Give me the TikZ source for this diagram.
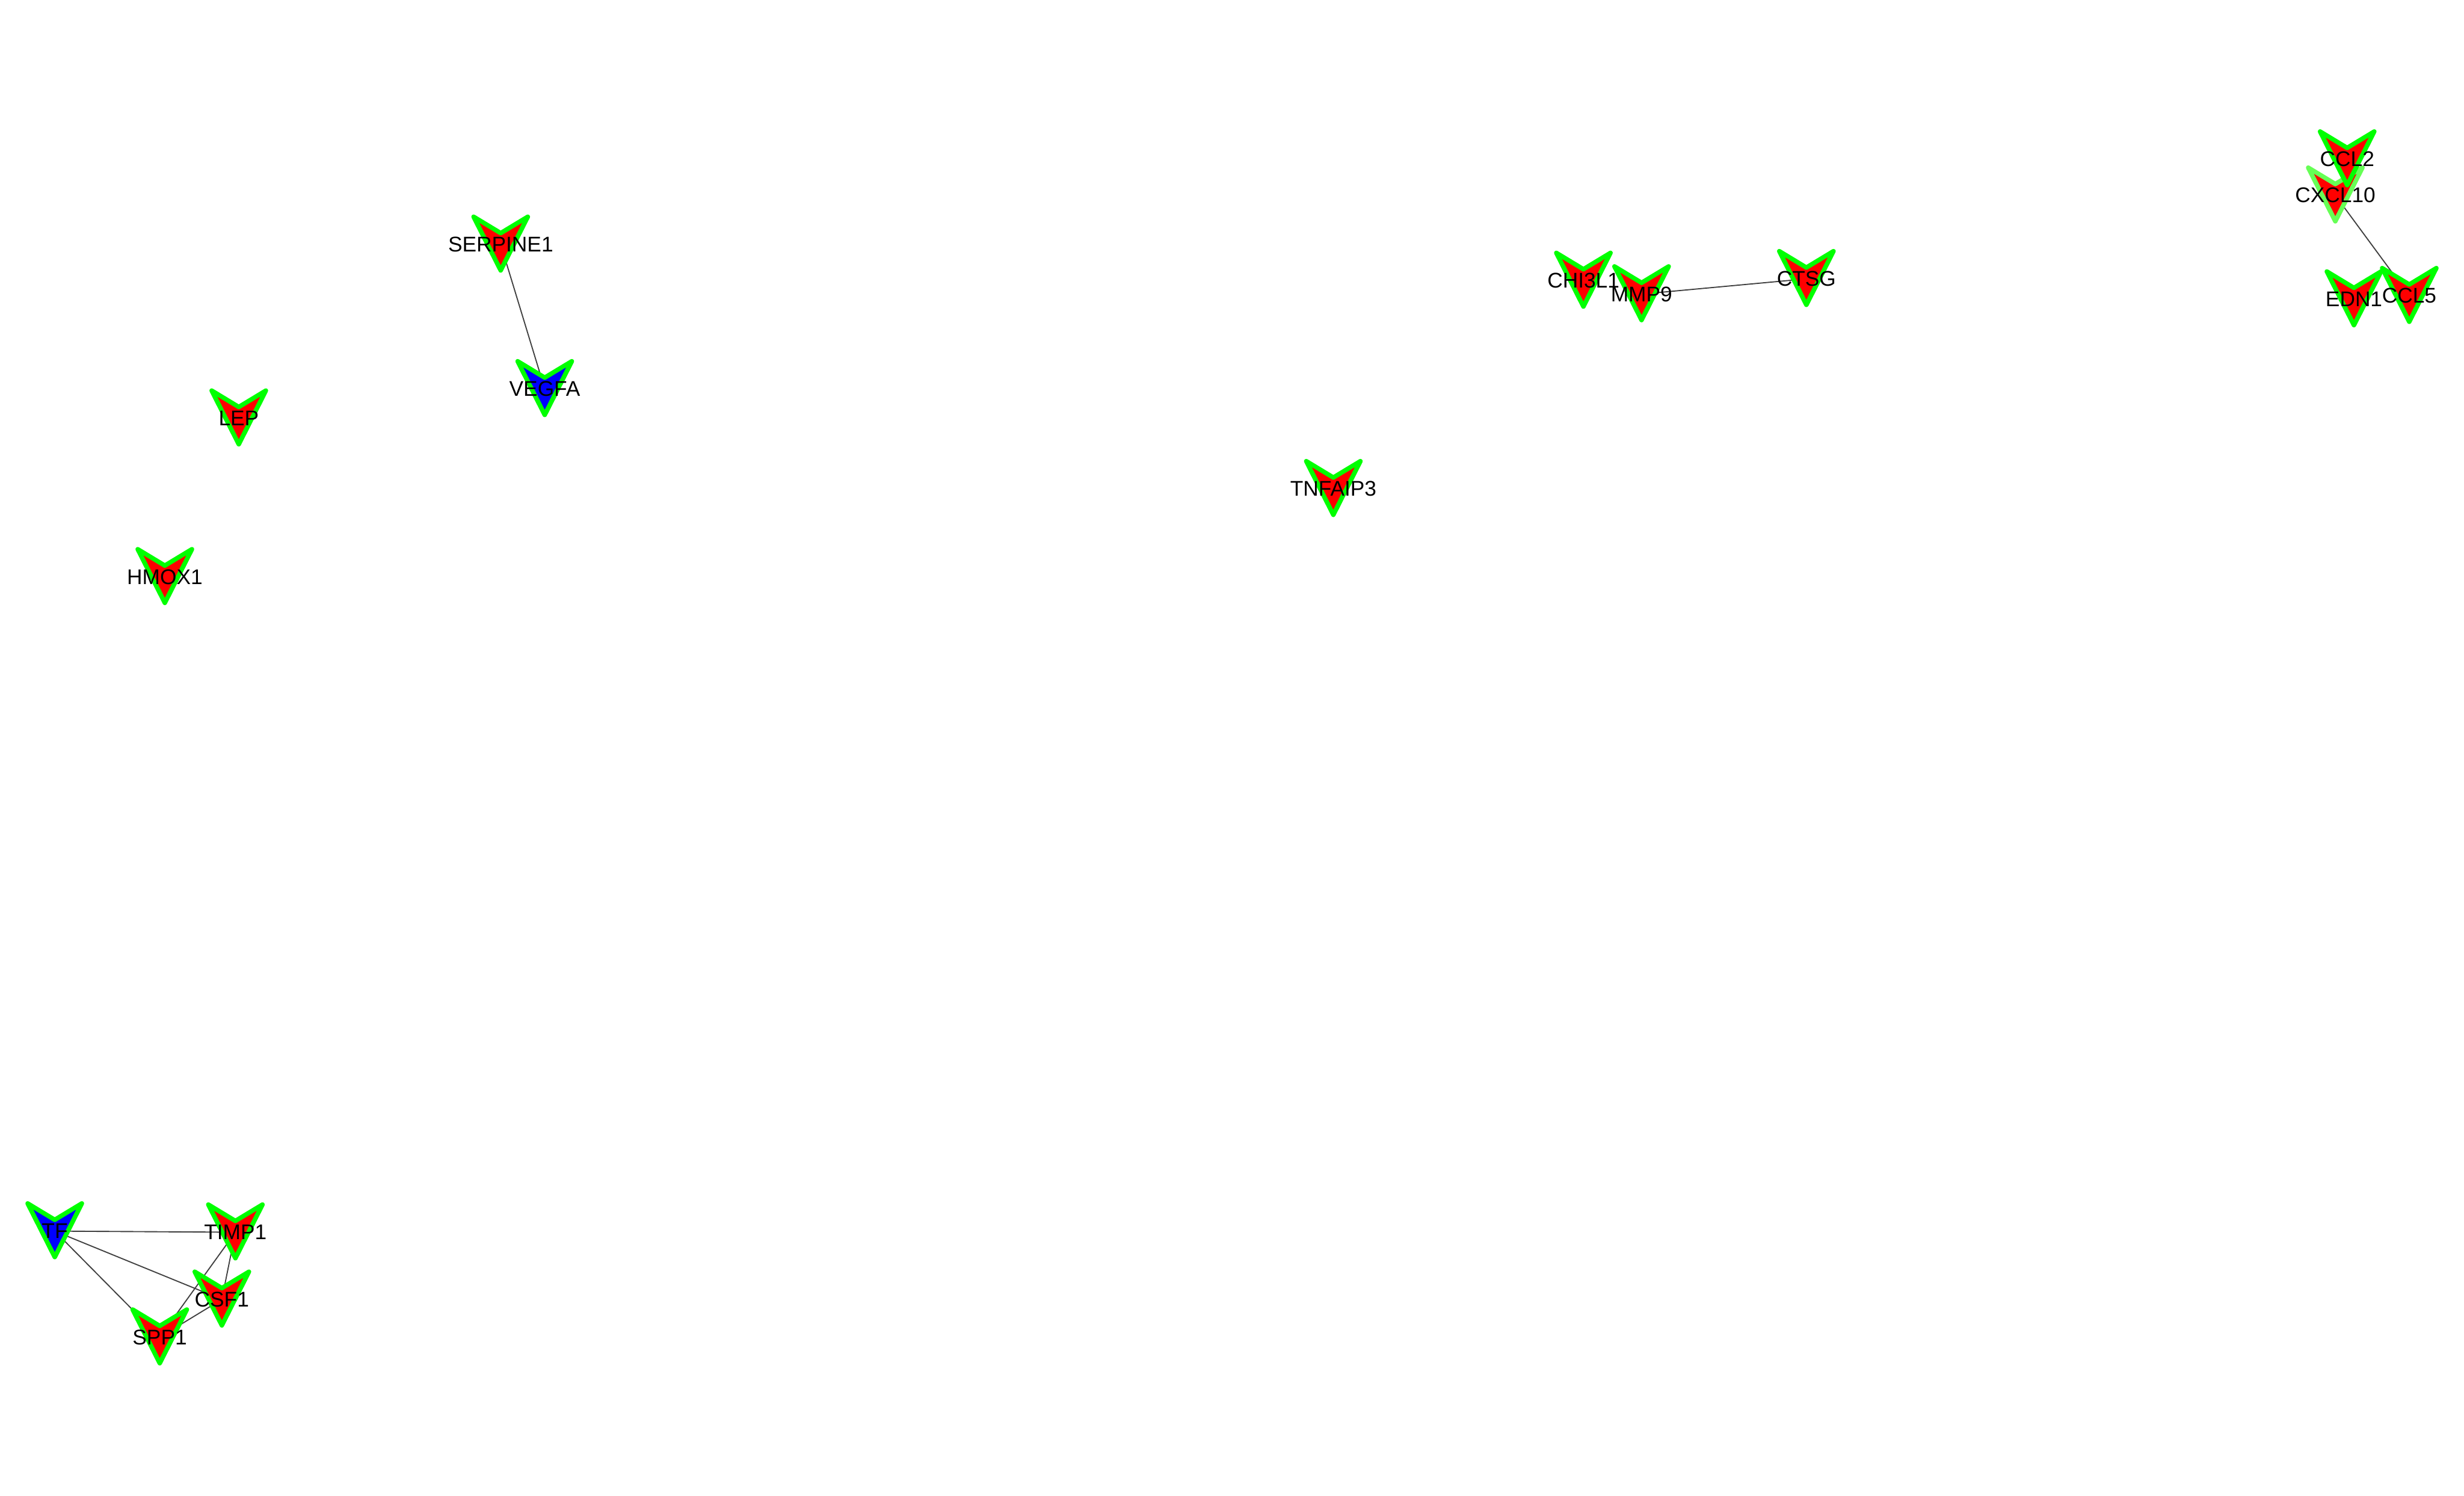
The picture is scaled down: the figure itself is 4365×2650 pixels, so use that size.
\documentclass[tikz,border=0pt]{standalone}
\usepackage{fontspec}
\setmainfont{Liberation Sans}
\usepackage{xcolor}
\definecolor{ppired}{HTML}{FF0000}
\definecolor{ppiblue}{HTML}{0000FF}
\definecolor{ppigreen}{HTML}{00FF00}
\definecolor{ppipale}{HTML}{66FF55}
\definecolor{ppigray}{HTML}{404040}
\usepackage{tikz}
\usetikzlibrary{backgrounds}

\begin{document}
\begin{tikzpicture}[
  x=0.01cm,y=-0.01cm,
  font=\fontsize{10.7}{12}\selectfont,
  gene/.style={inner sep=0pt,text=black},
  link/.style={ppigray,line width=0.57pt},
  pics/vee/.style 2 args={code={
    \filldraw[fill=#1,draw=#2,line width=2.28pt,line join=round]
      (-48,-49) -- (0,-20) -- (48,-49) -- (0,46) -- cycle;}}
]
\useasboundingbox (0,0) rectangle (4365,2650);
% genes, upper left
\node[gene] (SERPINE1) at (887,433) {SERPINE1};
\node[gene] (VEGFA) at (965,689) {VEGFA};
\node[gene] (LEP) at (423,741) {LEP};
\node[gene] (HMOX1) at (292,1022) {HMOX1};
% middle
\node[gene] (TNFAIP3) at (2362,866) {TNFAIP3};
\node[gene] (CHI3L1) at (2805,497) {CHI3L1};
\node[gene] (MMP9) at (2908,521) {MMP9};
\node[gene] (CTSG) at (3200,494) {CTSG};
% upper right
\node[gene] (CCL2) at (4158,282) {CCL2};
\node[gene] (CXCL10) at (4137,346) {CXCL10};
\node[gene] (EDN1) at (4170,530) {EDN1};
\node[gene] (CCL5) at (4268,524) {CCL5};
% lower left
\node[gene] (TF) at (97,2181) {TF};
\node[gene] (TIMP1) at (417,2183) {TIMP1};
\node[gene] (CSF1) at (393,2302) {CSF1};
\node[gene] (SPP1) at (283,2369) {SPP1};
% links and shapes under the labels
\begin{scope}[on background layer]
\draw[link] (SERPINE1.center) -- (VEGFA.center);
\draw[link] (MMP9.center) -- (CTSG.center);
\draw[link] (CXCL10.center) -- (CCL5.center);
\draw[link] (TF.center) -- (TIMP1.center);
\draw[link] (TF.center) -- (CSF1.center);
\draw[link] (TF.center) -- (SPP1.center);
\draw[link] (TIMP1.center) -- (CSF1.center);
\draw[link] (TIMP1.center) -- (SPP1.center);
\draw[link] (CSF1.center) -- (SPP1.center);
\pic at (CXCL10.center) {vee={ppired}{ppipale}};
\foreach \g/\c in {SERPINE1/ppired,VEGFA/ppiblue,LEP/ppired,HMOX1/ppired,
    TNFAIP3/ppired,CHI3L1/ppired,MMP9/ppired,CTSG/ppired,CCL2/ppired,
    EDN1/ppired,CCL5/ppired,TF/ppiblue,TIMP1/ppired,CSF1/ppired,SPP1/ppired}
  \pic at (\g.center) {vee={\c}{ppigreen}};
\end{scope}
\end{tikzpicture}
\end{document}
